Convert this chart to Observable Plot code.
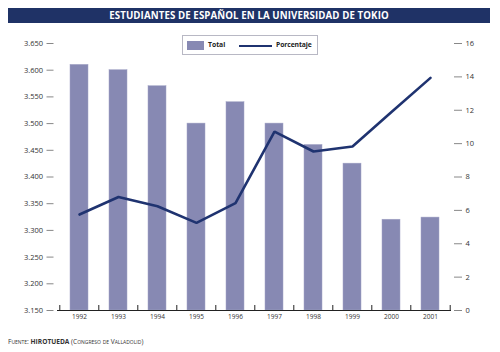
<!DOCTYPE html>
<html>
<head>
<meta charset="utf-8">
<script src="https://cdn.jsdelivr.net/npm/d3@7"></script>
<script src="https://cdn.jsdelivr.net/npm/@observablehq/plot@0.6"></script>
<style>
  html, body { margin: 0; padding: 0; background: #fff; }
  #wrap { position: relative; width: 500px; height: 352px; overflow: hidden; font-family: "Open Sans", sans-serif; }
  #wrap svg { position: absolute; left: 0; top: 0; }
  #title { position: absolute; left: 8px; top: 8px; width: 482px; height: 15px; background: #1f3266; color: #fff;
    font-weight: bold; font-size: 9.7px; line-height: 15px; text-align: center; letter-spacing: 0.1px; }
  #legend { position: absolute; left: 182px; top: 35px; width: 134px; height: 18px; border: 1px solid #b8b8c4; background: #fff;
    font-size: 6.8px; font-weight: bold; color: #222; }
  #legend .sw { position: absolute; left: 4px; top: 5px; width: 17px; height: 9px; background: #8789b3; }
  #legend .t1 { position: absolute; left: 25px; top: 3px; line-height: 12px; }
  #legend .ln { position: absolute; left: 56px; top: 8.5px; width: 33px; height: 2.5px; background: #1f3370; }
  #legend .t2 { position: absolute; left: 93px; top: 3px; line-height: 12px; letter-spacing: -0.1px; }
  #source { position: absolute; left: 8px; top: 337px; font-size: 6.6px; color: #333; font-variant: small-caps; white-space: nowrap; }
  #source b { font-variant: normal; }
</style>
</head>
<body>
<div id="wrap">
  <div id="title"></div>
  <div id="legend"><div class="sw"></div><div class="t1"></div><div class="ln"></div><div class="t2"></div></div>
  <div id="source"></div>
</div>
<script>
const title = "ESTUDIANTES DE ESPAÑOL EN LA UNIVERSIDAD DE TOKIO";
const years = ["1992","1993","1994","1995","1996","1997","1998","1999","2000","2001"];
const totals = [3610, 3600, 3570, 3500, 3540, 3500, 3460, 3425, 3320, 3324];
const percents = [5.75, 6.8, 6.25, 5.25, 6.43, 10.72, 9.53, 9.83, 11.9, 13.94];
const leftTicks = [3150, 3200, 3250, 3300, 3350, 3400, 3450, 3500, 3550, 3600, 3650];
const rightTicks = [0, 2, 4, 6, 8, 10, 12, 14, 16];
const seriesNames = ["Total", "Porcentaje"];

document.getElementById("title").textContent = title;
document.querySelector("#legend .t1").textContent = seriesNames[0];
document.querySelector("#legend .t2").textContent = seriesNames[1];
document.getElementById("source").innerHTML = "Fuente: <b>HIROTUEDA</b> (Congreso de Valladolid)";

const W = 500, H = 352, mL = 57, mR = 49, mT = 43, mB = 42;
const step = (W - mL - mR) / years.length;
const pctToY = d3.scaleLinear().domain([0, 16]).range([3150, 3650]);
const fmt = d => d3.format(",")(d).replace(/,/g, ".");
const data = years.map((y, i) => ({year: y, total: totals[i], pct: percents[i], pctY: pctToY(percents[i])}));

const chart = Plot.plot({
  width: W, height: H,
  marginLeft: mL, marginRight: mR, marginTop: mT, marginBottom: mB,
  style: {fontFamily: "'Open Sans', sans-serif", background: "transparent"},
  x: {type: "band", domain: years, paddingInner: 0.55, paddingOuter: 0.275, axis: null, label: null},
  y: {domain: [3150, 3650], axis: null, label: null},
  marks: [
    Plot.barY(data, {x: "year", y1: 3150, y2: "total", fill: "#8789b3", stroke: "#a3a5c6", strokeWidth: 0.5}),
    Plot.line(data, {x: "year", y: "pctY", stroke: "#1f3370", strokeWidth: 2.6, strokeLinejoin: "miter"}),
    Plot.ruleY([3150], {stroke: "#222", strokeWidth: 1}),
    Plot.axisX({anchor: "bottom", label: null, tickSize: 0, tickPadding: 4, fontSize: 6.5, fill: "#333"}),
    Plot.axisX({anchor: "bottom", label: null, ticks: years, tickSize: 5, dy: -5, dx: -step / 2, text: null, stroke: "#222"}),
    Plot.axisX({anchor: "bottom", label: null, ticks: [years[years.length - 1]], tickSize: 5, dy: -5, dx: step / 2, text: null, stroke: "#222"}),
    Plot.axisY({anchor: "left", label: null, ticks: leftTicks, tickFormat: fmt, tickSize: 7, dx: -3.5, tickPadding: 4, fontSize: 7.5, stroke: "#888", fill: "#333"}),
    Plot.axisY(rightTicks.map(t => pctToY(t)), {anchor: "right", label: null, tickFormat: v => String(Math.round(pctToY.invert(v))), tickSize: 8, dx: 2, tickPadding: 4, fontSize: 7.5, stroke: "#888", fill: "#333"})
  ]
});
document.getElementById("wrap").prepend(chart);
</script>
</body>
</html>
